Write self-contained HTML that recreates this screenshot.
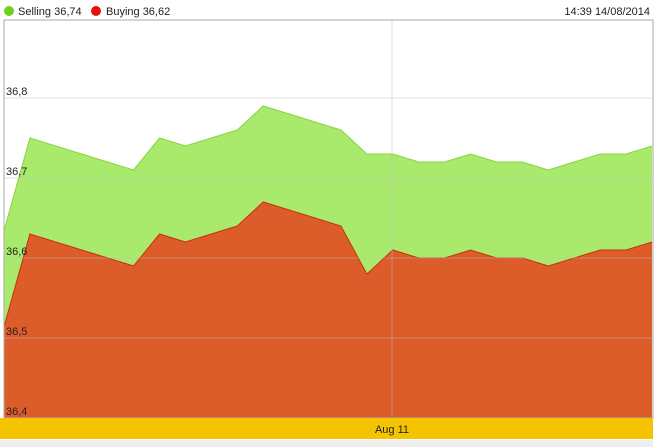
<!DOCTYPE html>
<html><head><meta charset="utf-8"><style>
body{margin:0;background:#fff;font-family:"Liberation Sans",sans-serif;}
svg{display:block}
</style></head><body>
<svg width="656" height="447" id="c">
<rect width="656" height="447" fill="#fff"/>
<g>
<circle cx="9" cy="11" r="5" fill="#6fd11e"/>
<text x="18" y="15" font-size="11" fill="#222">Selling 36,74</text>
<circle cx="96" cy="11" r="5" fill="#e8120c"/>
<text x="106" y="15" font-size="11" fill="#222">Buying 36,62</text>
</g>
<text x="650" y="15" font-size="11" fill="#222" text-anchor="end">14:39 14/08/2014</text>
<g id="series"></g>
<g id="grid"></g>
<line x1="392" y1="20" x2="392" y2="418" stroke="#bbb" stroke-opacity="0.5"/>
<rect x="4" y="20" width="649" height="398" fill="none" stroke="#aaa"/>
<rect x="0" y="418" width="653" height="21" fill="#f4c400"/>
<text x="392" y="433" font-size="11" fill="#222" text-anchor="middle">Aug 11</text>
<rect x="0" y="440" width="653" height="7" fill="#eee"/>
</svg>
<script>
const idx=[0,1,5,6,7,9,10,13,14,15,16,17,18,19,20,21,23,24,25];
const selling=[36.634,36.75,36.71,36.75,36.74,36.76,36.79,36.76,36.73,36.73,36.72,36.72,36.73,36.72,36.72,36.71,36.73,36.73,36.74];
const buying=[36.514,36.63,36.59,36.63,36.62,36.64,36.67,36.64,36.58,36.61,36.60,36.60,36.61,36.60,36.60,36.59,36.61,36.61,36.62];
const yTicks=[36.4,36.5,36.6,36.7,36.8];
const yTickLabels=["36,4","36,5","36,6","36,7","36,8"];
const NS="http://www.w3.org/2000/svg";
const X=i=>4+i*25.92, Y=v=>418-(v-36.4)*800;
const grid=document.getElementById('grid'), ser=document.getElementById('series');
yTicks.forEach((t,k)=>{
 const l=document.createElementNS(NS,'line');
 l.setAttribute('x1',4);l.setAttribute('x2',653);l.setAttribute('y1',Y(t));l.setAttribute('y2',Y(t));l.setAttribute('stroke','#bbb');l.setAttribute('stroke-opacity','0.45');
 
 
 grid.appendChild(l);
 const tx=document.createElementNS(NS,'text');
 tx.setAttribute('x',6);tx.setAttribute('y',Y(t)-3);tx.setAttribute('font-size','11');tx.setAttribute('fill','#222');
 tx.textContent=yTickLabels[k];
 
 
 grid.appendChild(tx);
});
function area(vals,fill,stroke,name){
 const pts=idx.map((i,k)=>X(i)+','+Y(vals[k])).join(' ');
 const p=document.createElementNS(NS,'polygon');
 p.setAttribute('points',X(idx[0])+',418 '+pts+' '+X(idx[idx.length-1])+',418');
 p.setAttribute('fill',fill);
 
 
 ser.appendChild(p);
 const l=document.createElementNS(NS,'polyline');
 l.setAttribute('points',pts);l.setAttribute('fill','none');l.setAttribute('stroke',stroke);l.setAttribute('stroke-width','1');
 
 
 ser.appendChild(l);
}
area(selling,'#a9ea6c','#86d640','selling');
area(buying,'#dd5d2a','#c8300e','buying');
</script>
</body></html>
